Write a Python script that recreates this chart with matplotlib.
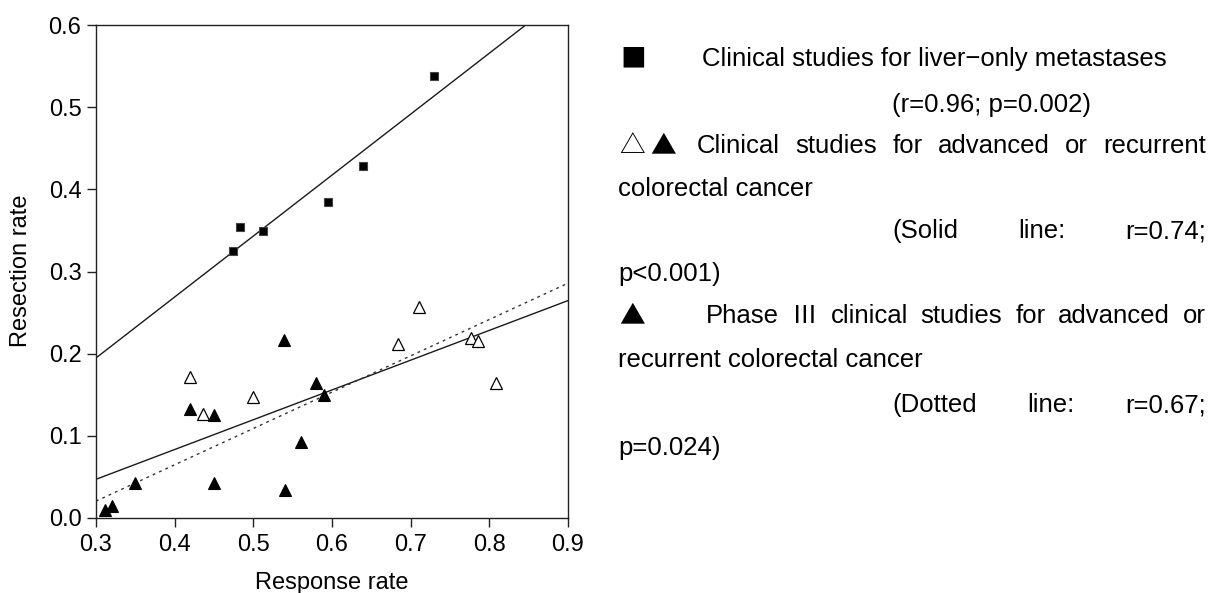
import numpy as np
import matplotlib
matplotlib.use("Agg")
import matplotlib.pyplot as plt

# ---------------- data ----------------
liver_x = [0.474, 0.4835, 0.512, 0.595, 0.639, 0.730]
liver_y = [0.325, 0.3545, 0.349, 0.385, 0.429, 0.538]

adv_open_x = [0.420, 0.436, 0.500, 0.684, 0.710, 0.777, 0.785, 0.808]
adv_open_y = [0.171, 0.126, 0.147, 0.212, 0.257, 0.219, 0.215, 0.164]

phase3_x = [0.311, 0.320, 0.349, 0.420, 0.450, 0.450, 0.539, 0.540, 0.560, 0.580, 0.590]
phase3_y = [0.0097, 0.015, 0.043, 0.133, 0.125, 0.042, 0.217, 0.034, 0.093, 0.164, 0.150]

x_ticks = [0.3, 0.4, 0.5, 0.6, 0.7, 0.8, 0.9]
y_ticks = [0.0, 0.1, 0.2, 0.3, 0.4, 0.5, 0.6]
x_label = "Response rate"
y_label = "Resection rate"

# ---------------- figure ----------------
W, H = 1210, 593
fig = plt.figure(figsize=(W / 100, H / 100), dpi=100)
fig.patch.set_facecolor("white")

AX_FONT = "Liberation Sans"
ax = fig.add_axes([96 / W, 1 - 518 / H, 472 / W, 493 / H])
ax.set_xlim(x_ticks[0], x_ticks[-1])
ax.set_ylim(y_ticks[0], y_ticks[-1])

# regression lines computed from the data
xs = np.array([x_ticks[0], x_ticks[-1]])
all_tri_x = np.array(adv_open_x + phase3_x)
all_tri_y = np.array(adv_open_y + phase3_y)
p_liver = np.polyfit(liver_x, liver_y, 1)
p_all = np.polyfit(all_tri_x, all_tri_y, 1)
p_ph3 = np.polyfit(phase3_x, phase3_y, 1)

line_col = "#1a1a1a"
ax.plot(xs, np.polyval(p_liver, xs), color=line_col, lw=1.0, zorder=2)
ax.plot(xs, np.polyval(p_all, xs), color=line_col, lw=1.0, zorder=2)
ax.plot(xs, np.polyval(p_ph3, xs), color="#333333", lw=1.0,
        linestyle=(0, (2.0, 3.0)), zorder=2)

ax.plot(liver_x, liver_y, linestyle="none", marker="s", markersize=6,
        markerfacecolor="black", markeredgecolor="#444444", markeredgewidth=0.8,
        zorder=3, clip_on=False)
ax.plot(adv_open_x, adv_open_y, linestyle="none", marker="^", markersize=8.5,
        markerfacecolor="white", markeredgecolor="black", markeredgewidth=0.9,
        zorder=3, clip_on=False)
ax.plot(phase3_x, phase3_y, linestyle="none", marker="^", markersize=8.5,
        markerfacecolor="black", markeredgecolor="black", markeredgewidth=0.8,
        zorder=3, clip_on=False)

ax.set_xticks(x_ticks)
ax.set_yticks(y_ticks)
ax.set_xticklabels([f"{v:.1f}" for v in x_ticks], fontfamily=AX_FONT, fontsize=17)
ax.set_yticklabels([f"{v:.1f}" for v in y_ticks], fontfamily=AX_FONT, fontsize=17)
ax.tick_params(axis="both", direction="out", length=6.5, width=1.0, color="#222222")
ax.tick_params(axis="x", pad=5)
ax.tick_params(axis="y", pad=4)
for s in ax.spines.values():
    s.set_linewidth(1.0)
    s.set_color("#222222")

fig.text(332 / W, 1 - 583 / H, x_label, ha="center", va="center",
         fontfamily=AX_FONT, fontsize=17)
fig.text(21 / W, 1 - 271 / H, y_label, ha="center", va="center", rotation=90,
         fontfamily=AX_FONT, fontsize=17)

# ---------------- legend-like text block ----------------
TXT = dict(fontsize=18.5, color="black")
LAT = ["Liberation Sans", "Noto Sans CJK JP"]
SYM = ["Noto Sans CJK JP", "DejaVu Sans"]
renderer = fig.canvas.get_renderer()


def put(x, y, s, fam=LAT, ha="left"):
    return fig.text(x / W, 1 - y / H, s, ha=ha, va="baseline", family=fam, **TXT)


def justify(words, x0, x1, y):
    ts = []
    for w in words:
        fam = SYM if w in ("△", "▲", "■", "Ⅲ") else LAT
        ts.append(put(0, y, w, fam))
    widths = [t.get_window_extent(renderer).width for t in ts]
    gap = (x1 - x0 - sum(widths)) / (len(ts) - 1)
    x = x0
    for t, w in zip(ts, widths):
        t.set_x(x / W)
        x += w + gap


put(620, 66, "■", SYM)
put(702, 66, "Clinical studies for liver\u2212only metastases")
put(892, 112, "(r=0.96; p=0.002)")
put(619, 153, "△", SYM)
put(650, 153, "▲", SYM)
justify(["Clinical", "studies", "for", "advanced", "or", "recurrent"],
        697, 1206, 153)
put(618, 196, "colorectal cancer")
justify(["(Solid", "line:", "r=0.74;"], 892, 1206, 238)
put(618, 281, "p<0.001)")
put(619, 323, "▲", SYM)
justify(["Phase", "Ⅲ", "clinical", "studies", "for", "advanced", "or"],
        706, 1206, 323)
put(618, 367, "recurrent colorectal cancer")
justify(["(Dotted", "line:", "r=0.67;"], 892, 1206, 412)
put(618, 455, "p=0.024)")

fig.savefig("out.png", dpi=100, facecolor="white")
